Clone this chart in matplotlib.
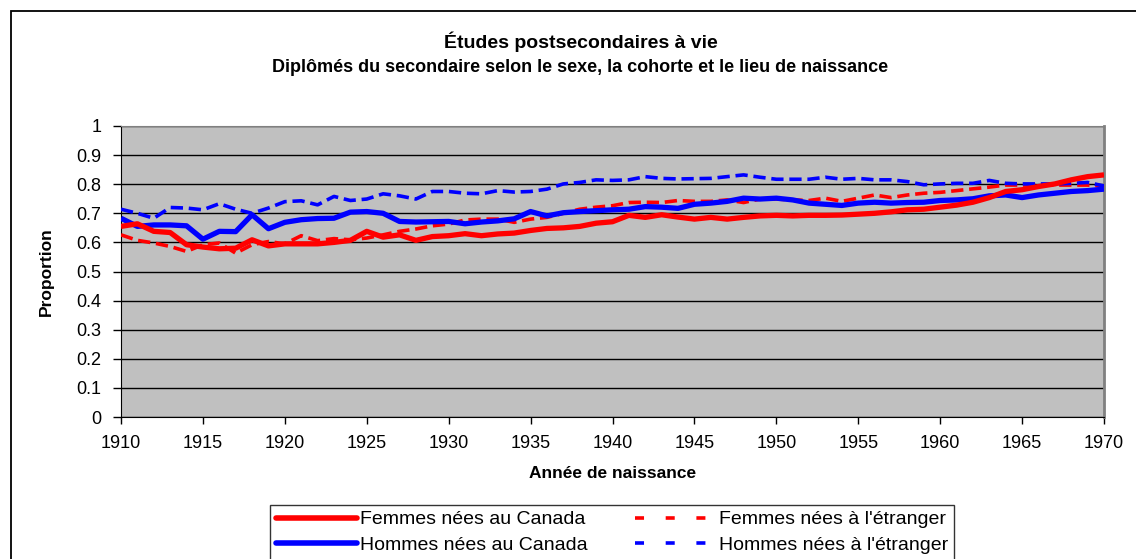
import matplotlib
matplotlib.use("Agg")
import matplotlib.pyplot as plt
from matplotlib.lines import Line2D
from matplotlib.patches import Rectangle

plt.rcParams['font.family'] = ['Liberation Sans', 'DejaVu Sans']

#data
years = list(range(1910, 1971))

femmes_canada = [0.655, 0.664, 0.638, 0.634, 0.592, 0.584, 0.578, 0.580, 0.609, 0.588,
                 0.595, 0.595, 0.595, 0.600, 0.607, 0.638, 0.618, 0.626, 0.607, 0.620,
                 0.623, 0.630, 0.623, 0.629, 0.632, 0.641, 0.648, 0.650, 0.655, 0.666,
                 0.671, 0.693, 0.686, 0.695, 0.687, 0.680, 0.686, 0.680, 0.686, 0.691,
                 0.693, 0.691, 0.693, 0.693, 0.694, 0.697, 0.700, 0.705, 0.712, 0.714,
                 0.721, 0.728, 0.738, 0.754, 0.775, 0.781, 0.792, 0.801, 0.815, 0.826,
                 0.832]

femmes_etranger = [0.626, 0.607, 0.598, 0.586, 0.569, 0.592, 0.598, 0.563, 0.592, 0.603,
                   0.595, 0.623, 0.606, 0.613, 0.609, 0.615, 0.626, 0.638, 0.646, 0.657,
                   0.663, 0.677, 0.680, 0.680, 0.669, 0.680, 0.686, 0.700, 0.714, 0.721,
                   0.726, 0.737, 0.738, 0.737, 0.744, 0.741, 0.741, 0.746, 0.737, 0.749,
                   0.749, 0.746, 0.744, 0.752, 0.741, 0.752, 0.763, 0.754, 0.763, 0.769,
                   0.772, 0.778, 0.784, 0.790, 0.797, 0.797, 0.797, 0.797, 0.797, 0.797,
                   0.794]

hommes_canada = [0.683, 0.655, 0.660, 0.660, 0.657, 0.611, 0.638, 0.637, 0.695, 0.647,
                 0.669, 0.678, 0.682, 0.683, 0.704, 0.706, 0.700, 0.672, 0.670, 0.671,
                 0.672, 0.664, 0.670, 0.674, 0.681, 0.706, 0.691, 0.702, 0.706, 0.709,
                 0.712, 0.714, 0.723, 0.721, 0.717, 0.731, 0.735, 0.741, 0.752, 0.749,
                 0.752, 0.746, 0.735, 0.731, 0.727, 0.735, 0.738, 0.735, 0.737, 0.738,
                 0.744, 0.746, 0.750, 0.760, 0.763, 0.754, 0.763, 0.769, 0.775, 0.778,
                 0.783]

hommes_etranger = [0.714, 0.700, 0.683, 0.720, 0.718, 0.712, 0.733, 0.714, 0.700, 0.718,
                   0.740, 0.743, 0.729, 0.758, 0.744, 0.749, 0.767, 0.760, 0.749, 0.775,
                   0.775, 0.769, 0.767, 0.778, 0.773, 0.775, 0.783, 0.801, 0.806, 0.815,
                   0.813, 0.815, 0.826, 0.820, 0.818, 0.819, 0.820, 0.826, 0.832, 0.824,
                   0.817, 0.817, 0.817, 0.824, 0.817, 0.820, 0.815, 0.815, 0.809, 0.798,
                   0.801, 0.803, 0.803, 0.813, 0.803, 0.801, 0.801, 0.801, 0.803, 0.806,
                   0.794]

lab_fc = "Femmes nées au Canada"
lab_fe = "Femmes nées à l'étranger"
lab_hc = "Hommes nées au Canada"
lab_he = "Hommes nées à l'étranger"

fig = plt.figure(figsize=(11.36, 5.59), dpi=100)
ax = fig.add_axes([121/1136, 1-417/559, (1104-121)/1136, (417-126)/559])
ax.set_facecolor('#c0c0c0')

#outer chart frame
fig.patches.append(Rectangle((10.5/1136, -0.2), 1.2, 1.2 - 11/559,
                             transform=fig.transFigure, fill=False,
                             edgecolor='black', lw=1.3, clip_on=False))

dash = (3.4, 1.6)
ax.plot(years, femmes_etranger, color='red', lw=2.6, linestyle=(0, dash), zorder=3)
ax.plot(years, hommes_etranger, color='blue', lw=2.6, linestyle=(0, dash), zorder=3)
ax.plot(years, hommes_canada, color='blue', lw=3.8, solid_capstyle='butt', zorder=4)
ax.plot(years, femmes_canada, color='red', lw=3.8, solid_capstyle='butt', zorder=5)

ax.set_xlim(1910, 1970)
ax.set_ylim(0, 1)
ax.set_xticks(range(1910, 1971, 5))
ax.set_yticks([i/10 for i in range(11)])
ax.set_yticklabels(['0', '0.1', '0.2', '0.3', '0.4', '0.5', '0.6', '0.7', '0.8', '0.9', '1'])
ax.grid(axis='y', color='black', lw=1.0)
ax.set_axisbelow(True)
ax.tick_params(axis='both', labelsize=13, length=5, width=1, color='black', pad=4)
ax.tick_params(axis='y', length=6, pad=8)
ax.tick_params(axis='x', pad=8)
ax.spines['left'].set_color('black')
ax.spines['bottom'].set_color('black')
ax.spines['top'].set_color('#808080')
ax.spines['right'].set_color('#808080')
ax.spines['right'].set_linewidth(2)

ax.set_ylabel('Proportion', fontsize=12.5, fontweight='bold')
ax.yaxis.set_label_coords(-0.068, 0.5)
ax.set_xlabel('Année de naissance', fontsize=12.5, fontweight='bold')
ax.xaxis.set_label_coords(0.5, -0.168)

fig.text(0.511, 1-42/559, 'Études postsecondaires à vie', ha='center', va='center',
         fontsize=14, fontweight='bold')
fig.text(0.511, 1-68/559, 'Diplômés du secondaire selon le sexe, la cohorte et le lieu de naissance',
         ha='center', va='center', fontsize=13, fontweight='bold')

#legend handles with excel-like short dashes, ordered so rows read femmes / hommes
h_fc = Line2D([], [], color='red', lw=4, solid_capstyle='round')
h_fe = Line2D([], [], color='red', lw=2.6, linestyle=(0, (2.5, 6)))
h_hc = Line2D([], [], color='blue', lw=4, solid_capstyle='round')
h_he = Line2D([], [], color='blue', lw=2.6, linestyle=(0, (2.5, 6)))
leg = fig.legend([h_fc, h_hc, h_fe, h_he], [lab_fc, lab_hc, lab_fe, lab_he],
                 loc='upper center', bbox_to_anchor=(612/1136, 1-505/559),
                 ncol=2, fontsize=14, frameon=True, fancybox=False, edgecolor='black',
                 handlelength=4.2, handletextpad=0.15, columnspacing=2.4,
                 labelspacing=0.4, borderpad=0.3, borderaxespad=0)
leg.get_frame().set_linewidth(1.0)

fig.savefig('out.png', dpi=100)
